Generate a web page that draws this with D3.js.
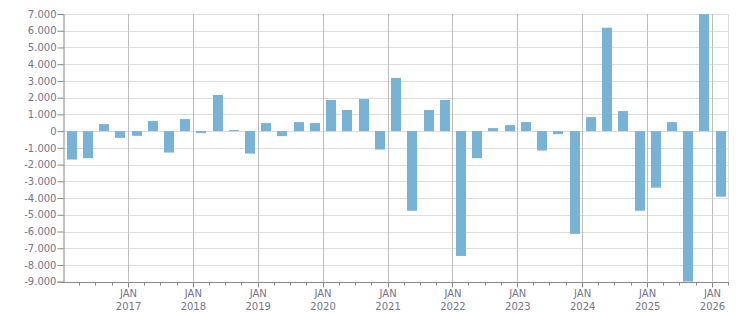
<!DOCTYPE html>
<html>
<head>
<meta charset="utf-8">
<script src="https://cdn.jsdelivr.net/npm/d3@7.9.0/dist/d3.min.js"></script>
<style>
  body { margin: 0; background: #fff; }
  svg text { font-family: "DejaVu Sans", Verdana, sans-serif; font-size: 10px; fill: #74748a; }
</style>
</head>
<body>
<div id="chart"></div>
<script>
// quarterly values, Q1 2016 .. Q1 2026
const quarters = [
  "2016-01", "2016-04", "2016-07", "2016-10",
  "2017-01", "2017-04", "2017-07", "2017-10",
  "2018-01", "2018-04", "2018-07", "2018-10",
  "2019-01", "2019-04", "2019-07", "2019-10",
  "2020-01", "2020-04", "2020-07", "2020-10",
  "2021-01", "2021-04", "2021-07", "2021-10",
  "2022-01", "2022-04", "2022-07", "2022-10",
  "2023-01", "2023-04", "2023-07", "2023-10",
  "2024-01", "2024-04", "2024-07", "2024-10",
  "2025-01", "2025-04", "2025-07", "2025-10",
  "2026-01"
];
const values = [
  -1700, -1620, 420, -400,
  -280, 600, -1280, 720,
  -120, 2160, 60, -1340,
  480, -300, 540, 480,
  1860, 1260, 1920, -1100,
  3180, -4760, 1260, 1860,
  -7460, -1620, 180, 360,
  540, -1160, -180, -6140,
  840, 6180, 1200, -4760,
  -3380, 540, -9000, 7000,
  -3920
];
const yTicks = d3.range(-9000, 7001, 1000);
const yearTicks = ["2017", "2018", "2019", "2020", "2021", "2022", "2023", "2024", "2025", "2026"];
const domainStart = "2016-01-01", domainEnd = "2026-04-01";

const width = 751, height = 313;
const margin = { top: 14, right: 23, bottom: 32, left: 63 };

const parseMonth = d3.timeParse("%Y-%m");
const parseDay = d3.timeParse("%Y-%m-%d");

const locale = d3.formatLocale({ decimal: ",", thousands: ".", grouping: [3], currency: ["", ""], minus: "-" });
const fmt = locale.format(",d");

const svg = d3.select("#chart").append("svg")
  .attr("width", width).attr("height", height);

const x = d3.scaleTime()
  .domain([parseDay(domainStart), parseDay(domainEnd)])
  .range([margin.left, width - margin.right]);

const y = d3.scaleLinear()
  .domain([-9000, 7000])
  .range([height - margin.bottom + 0.7, margin.top]);

// horizontal gridlines
svg.append("g").selectAll("line")
  .data(yTicks)
  .join("line")
  .attr("x1", margin.left).attr("x2", width - margin.right)
  .attr("y1", d => Math.round(y(d)) + 0.5).attr("y2", d => Math.round(y(d)) + 0.5)
  .attr("stroke", "#dddddd");

// right border
svg.append("line")
  .attr("x1", Math.round(width - margin.right) + 0.5).attr("x2", Math.round(width - margin.right) + 0.5)
  .attr("y1", y(7000)).attr("y2", y(-9000))
  .attr("stroke", "#dddddd");

// january gridlines
const janDates = yearTicks.map(d => parseMonth(d + "-01"));
svg.append("g").selectAll("line")
  .data(janDates)
  .join("line")
  .attr("x1", d => Math.round(x(d)) + 0.5).attr("x2", d => Math.round(x(d)) + 0.5)
  .attr("y1", y(7000)).attr("y2", y(-9000))
  .attr("stroke", "#bbbbbb");

// bars
svg.append("clipPath").attr("id", "plot-clip")
  .append("rect")
  .attr("x", margin.left).attr("y", y(7000))
  .attr("width", width - margin.right - margin.left)
  .attr("height", y(-9000) - y(7000));

const barW = 10;
svg.append("g").attr("clip-path", "url(#plot-clip)")
  .selectAll("rect")
  .data(quarters.map((q, i) => ({ date: parseMonth(q), value: values[i] })))
  .join("rect")
  .attr("x", d => {
    const c = (x(d.date) + x(d3.timeMonth.offset(d.date, 3))) / 2;
    return Math.round(c - barW / 2 + 0.6);
  })
  .attr("width", barW)
  .attr("y", d => y(Math.max(0, d.value)))
  .attr("height", d => Math.abs(y(d.value) - y(0)))
  .attr("fill", "#78b2d4");

// left axis
const yAxis = svg.append("g")
  .attr("transform", `translate(${margin.left + 0.5},0)`)
  .call(d3.axisLeft(y).tickValues(yTicks).tickFormat(fmt).tickSize(6).tickPadding(1));
yAxis.select(".domain").attr("stroke", "#888888");
yAxis.selectAll(".tick line").attr("stroke", "#888888");
yAxis.selectAll("text").attr("fill", null);

// bottom axis with quarter ticks
const bottomY = Math.round(y(-9000)) + 0.5;
svg.append("line")
  .attr("x1", margin.left).attr("x2", width - margin.right + 1)
  .attr("y1", bottomY).attr("y2", bottomY)
  .attr("stroke", "#888888");

const quarterTicks = quarters.map(parseMonth).slice(1).concat([parseDay(domainEnd)]);
svg.append("g").selectAll("line")
  .data(quarterTicks)
  .join("line")
  .attr("x1", d => Math.round(x(d)) + 0.5).attr("x2", d => Math.round(x(d)) + 0.5)
  .attr("y1", bottomY)
  .attr("y2", d => bottomY + (d.getMonth() === 0 ? 5 : 3))
  .attr("stroke", "#888888");

const labels = svg.append("g").selectAll("text")
  .data(janDates)
  .join("text")
  .attr("text-anchor", "middle")
  .attr("x", d => x(d) + 0.5);
labels.append("tspan").attr("x", d => x(d) + 0.5).attr("y", 297).text("JAN");
labels.append("tspan").attr("x", d => x(d) + 0.5).attr("y", 310).text(d => d3.timeFormat("%Y")(d));
</script>
</body>
</html>
